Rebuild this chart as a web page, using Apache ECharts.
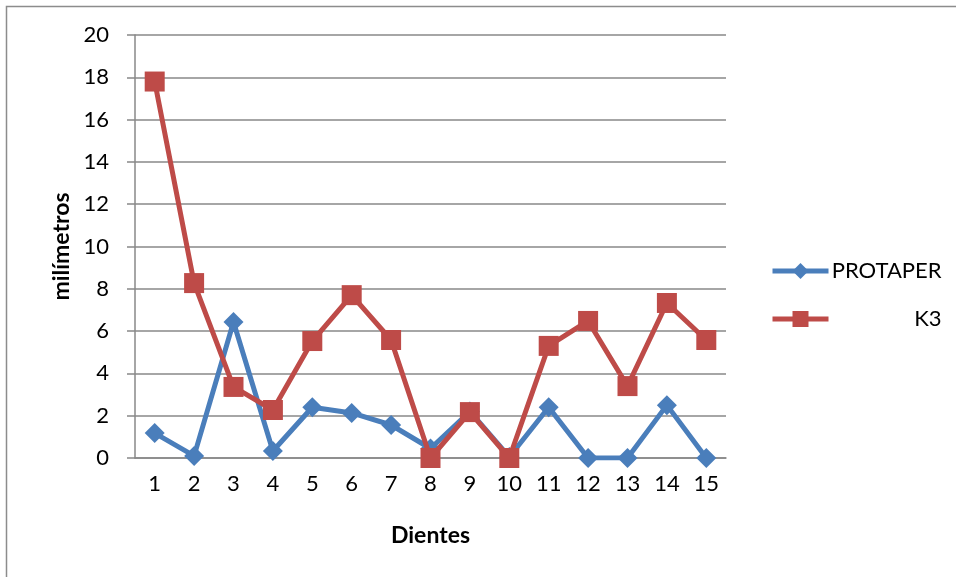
<!DOCTYPE html>
<html lang="es">
<head>
  <meta charset="UTF-8">
  <title>Dientes</title>
  <style>
    html, body { margin: 0; padding: 0; background: #fff; }
    #chart { width: 956px; height: 577px; }
  </style>
</head>
<body>
  <div id="chart"></div>
  <script src="https://cdn.jsdelivr.net/npm/echarts@6/dist/echarts.min.js"></script>
  <script>
    // datos
    const dientes = ['1', '2', '3', '4', '5', '6', '7', '8', '9', '10', '11', '12', '13', '14', '15'];
    const protaper = [1.18, 0.1, 6.43, 0.33, 2.4, 2.13, 1.56, 0.45, 2.2, 0.05, 2.4, 0, 0, 2.5, 0];
    const k3 = [17.8, 8.27, 3.36, 2.27, 5.53, 7.7, 5.58, 0, 2.17, 0, 5.3, 6.48, 3.4, 7.33, 5.58];

    const fontName = 'Lato, "Open Sans", sans-serif';
    let chart = echarts.init(document.getElementById('chart'));

    let option = {
      animation: false,
      backgroundColor: '#fff',
      textStyle: { fontFamily: fontName },
      graphic: [{
        type: 'rect',
        shape: { x: 6.5, y: 6.5, width: 1000, height: 1000 },
        style: { fill: 'none', stroke: '#8c8c8c', lineWidth: 1.5 },
        silent: true
      }],
      legend: {
        orient: 'vertical',
        left: 765,
        top: 255,
        itemGap: 26,
        itemWidth: 56,
        itemHeight: 20,
        lineStyle: { width: 5 },
        formatter: function (name) { return '{a|' + name + '}'; },
        textStyle: {
          color: '#000',
          fontSize: 22,
          fontFamily: fontName,
          rich: { a: { width: 108, align: 'right', fontSize: 22, fontFamily: fontName, color: '#000' } }
        },
        data: ['PROTAPER', 'K3']
      },
      grid: {
        left: 135,
        right: 230,
        top: 35,
        bottom: 119
      },
      xAxis: {
        type: 'category',
        data: dientes,
        name: 'Dientes',
        nameLocation: 'middle',
        nameGap: 66,
        nameTextStyle: { fontWeight: 'bold', fontSize: 23, color: '#000' },
        axisLine: { lineStyle: { color: '#888', width: 1.5 } },
        axisTick: { show: false },
        axisLabel: { color: '#000', fontSize: 22, margin: 15 }
      },
      yAxis: {
        type: 'value',
        min: 0,
        max: 20,
        interval: 2,
        name: 'milímetros',
        nameLocation: 'middle',
        nameGap: 62,
        nameTextStyle: { fontWeight: 'bold', fontSize: 23, color: '#000' },
        axisLine: { show: true, lineStyle: { color: '#888', width: 1.5 } },
        axisTick: { show: true, inside: false, length: 8, lineStyle: { color: '#888', width: 1.5 } },
        axisLabel: { color: '#000', fontSize: 22, margin: 26 },
        splitLine: { lineStyle: { color: '#888', width: 1.5 } }
      },
      series: [{
        name: 'PROTAPER',
        type: 'line',
        data: protaper,
        symbol: 'diamond',
        symbolSize: 20,
        color: '#4a7ebb',
        lineStyle: { width: 5, color: '#4a7ebb' },
        itemStyle: { color: '#4a7ebb' },
        z: 2
      }, {
        name: 'K3',
        type: 'line',
        data: k3,
        symbol: 'rect',
        symbolSize: 20,
        color: '#be4b48',
        lineStyle: { width: 5, color: '#be4b48' },
        itemStyle: { color: '#be4b48' },
        z: 3
      }]
    };
    chart.setOption(option);
  </script>
</body>
</html>
